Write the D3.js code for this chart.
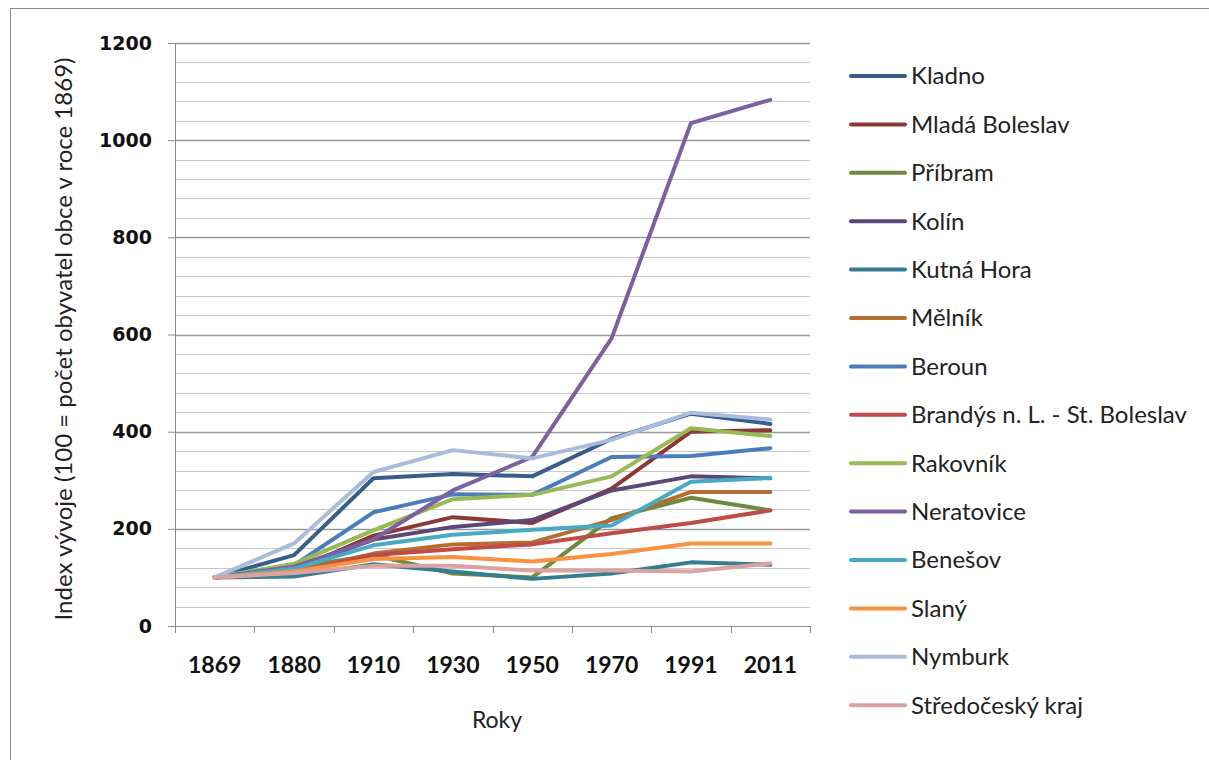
<!DOCTYPE html>
<html>
<head>
<meta charset="utf-8">
<script src="https://cdn.jsdelivr.net/npm/d3@7"></script>
<style>
  body { margin: 0; background: #fff; }
  svg { display: block; }
</style>
</head>
<body>
<script>
// Years on the category axis
const years = ["1869", "1880", "1910", "1930", "1950", "1970", "1991", "2011"];

// One array per town (index, 100 = population in 1869)
const kladno       = [100, 146, 304, 313, 308, 385, 437, 416];
const mladaBoleslav= [100, 115, 186, 224, 212, 283, 400, 403];
const pribram      = [100, 120, 146, 108, 100, 222, 264, 238];
const kolin        = [100, 118, 178, 204, 218, 279, 308, 304];
const kutnaHora    = [100, 102, 127, 112,  97, 108, 131, 126];
const melnik       = [100, 112, 149, 168, 172, 218, 276, 276];
const beroun       = [100, 125, 234, 271, 270, 348, 350, 366];
const brandys      = [100, 110, 146, 158, 168, 191, 212, 238];
const rakovnik     = [100, 128, 197, 261, 270, 308, 407, 391];
const neratovice   = [100, 122, 178, 279, 348, 592, 1035, 1083];
const benesov      = [100, 118, 166, 188, 198, 207, 297, 305];
const slany        = [100, 112, 138, 142, 133, 148, 170, 170];
const nymburk      = [100, 170, 317, 362, 345, 383, 439, 425];
const stredocesky  = [100, 109, 124, 124, 114, 114, 112, 129];

const names = ["Kladno", "Mladá Boleslav", "Příbram", "Kolín", "Kutná Hora", "Mělník", "Beroun",
               "Brandýs n. L. - St. Boleslav", "Rakovník", "Neratovice", "Benešov", "Slaný",
               "Nymburk", "Středočeský kraj"];
const values = [kladno, mladaBoleslav, pribram, kolin, kutnaHora, melnik, beroun,
                brandys, rakovnik, neratovice, benesov, slany, nymburk, stredocesky];
const colors = ["#385d8a", "#8c3836", "#71893f", "#5c4776", "#357d91", "#b66d31", "#4a7ebb",
                "#be4b48", "#98b954", "#7d60a0", "#46aac5", "#f69240", "#a9bcdc", "#d9a3a1"];

const yTicks = [0, 200, 400, 600, 800, 1000, 1200];

const series = names.map((n, i) => ({ name: n, color: colors[i], values: values[i] }));

// Layout
const width = 1209, height = 760;
const xStart = 175, xEnd = 810;
const yTop = 43, yBottom = 626;

const svg = d3.select("body").append("svg")
  .attr("width", width)
  .attr("height", height);

// outer chart border
svg.append("rect")
  .attr("x", 10.5).attr("y", 8.5)
  .attr("width", 1200).attr("height", 800)
  .attr("fill", "none")
  .attr("stroke", "#8a8a8a")
  .attr("stroke-width", 1);

const x = d3.scaleBand().domain(years).range([xStart, xEnd]);
const y = d3.scaleLinear().domain([0, 1200]).range([yBottom, yTop]);

// minor + major gridlines
const grid = svg.append("g");
grid.selectAll("line")
  .data(d3.range(40, 1201, 40))
  .join("line")
  .attr("x1", xStart).attr("x2", xEnd)
  .attr("y1", d => Math.round(y(d)) + 0.5)
  .attr("y2", d => Math.round(y(d)) + 0.5)
  .attr("stroke", d => d % 200 === 0 ? "#9a9a9a" : "#c8c8c8")
  .attr("stroke-width", d => d % 200 === 0 ? 1.3 : 1.2);

// y axis
const yAxis = svg.append("g")
  .attr("transform", `translate(${xStart},0)`)
  .call(d3.axisLeft(y).tickValues(yTicks).tickFormat(d3.format("d")).tickSize(7).tickPadding(16));
yAxis.select(".domain").attr("stroke", "#8a8a8a");
yAxis.selectAll(".tick line").attr("stroke", "#8a8a8a");
yAxis.selectAll(".tick text")
  .attr("font-family", "'DejaVu Sans', Verdana, sans-serif")
  .attr("font-weight", "bold")
  .attr("font-size", 19)
  .attr("fill", "#111");

// x axis, ticks on category boundaries
const xAxis = svg.append("g")
  .attr("transform", `translate(0,${yBottom})`);
xAxis.append("line")
  .attr("x1", xStart - 7).attr("x2", xEnd)
  .attr("y1", 0.5).attr("y2", 0.5)
  .attr("stroke", "#8a8a8a");
xAxis.selectAll("line.tick")
  .data(d3.range(years.length + 1))
  .join("line")
  .attr("class", "tick")
  .attr("x1", i => Math.round(xStart + i * x.step()) + 0.5)
  .attr("x2", i => Math.round(xStart + i * x.step()) + 0.5)
  .attr("y1", 0).attr("y2", 7)
  .attr("stroke", "#8a8a8a");
xAxis.selectAll("text")
  .data(years)
  .join("text")
  .attr("x", d => x(d) + x.bandwidth() / 2)
  .attr("y", 47)
  .attr("text-anchor", "middle")
  .attr("font-family", "Lato, sans-serif")
  .attr("font-weight", "bold")
  .attr("font-size", 23)
  .attr("fill", "#111")
  .text(d => d);

// axis titles
svg.append("text")
  .attr("transform", "translate(72,339) rotate(-90)")
  .attr("text-anchor", "middle")
  .attr("font-family", "Lato, sans-serif")
  .attr("font-size", 24)
  .attr("fill", "#222")
  .text("Index vývoje (100 = počet obyvatel obce v roce 1869)");

svg.append("text")
  .attr("x", 497).attr("y", 728)
  .attr("text-anchor", "middle")
  .attr("font-family", "Lato, sans-serif")
  .attr("font-size", 23)
  .attr("fill", "#222")
  .text("Roky");

// lines
const line = d3.line()
  .x((d, i) => x(years[i]) + x.bandwidth() / 2)
  .y(d => y(d));

svg.append("g")
  .selectAll("path")
  .data(series)
  .join("path")
  .attr("d", d => line(d.values))
  .attr("fill", "none")
  .attr("stroke", d => d.color)
  .attr("stroke-width", 4)
  .attr("stroke-linejoin", "round")
  .attr("stroke-linecap", "round");

// legend
const legend = svg.append("g")
  .selectAll("g")
  .data(series)
  .join("g")
  .attr("transform", (d, i) => `translate(851,${76 + i * 48.4})`);
legend.append("line")
  .attr("x1", 0).attr("x2", 54)
  .attr("stroke", d => d.color)
  .attr("stroke-width", 4)
  .attr("stroke-linecap", "round");
legend.append("text")
  .attr("x", 60)
  .attr("dy", "0.35em")
  .attr("font-family", "Lato, sans-serif")
  .attr("font-size", 24)
  .attr("fill", "#222")
  .text(d => d.name);
</script>
</body>
</html>
